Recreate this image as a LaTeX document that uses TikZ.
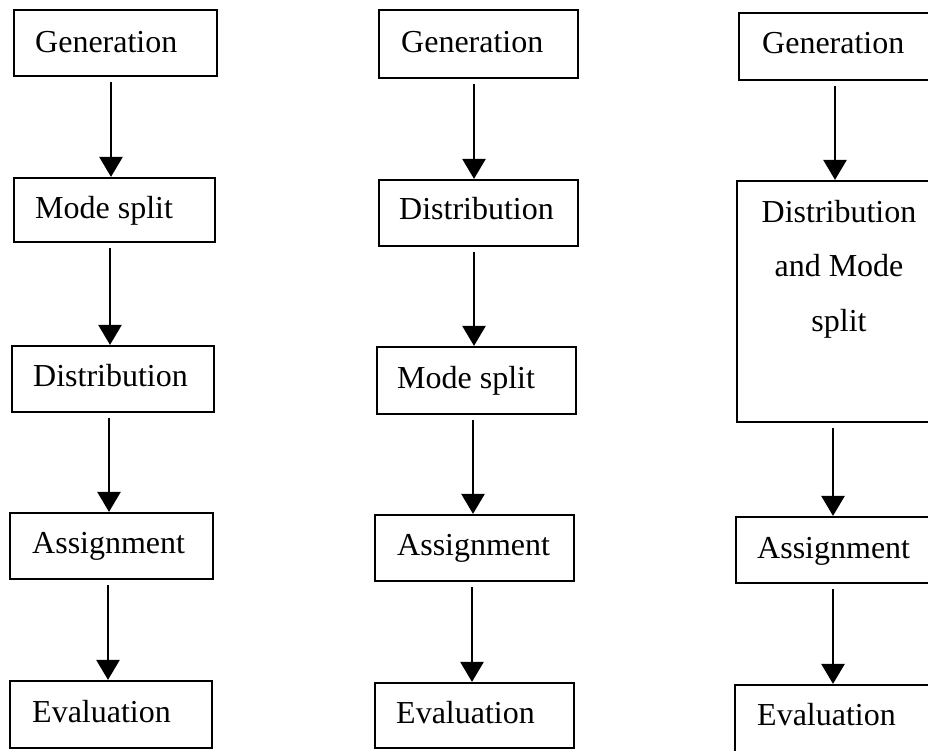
\documentclass[tikz,border=0pt]{standalone}
\usepackage{fontspec}
\setmainfont{Liberation Serif}
\usetikzlibrary{arrows.meta}
\begin{document}
\begin{tikzpicture}[x=1pt,y=-1pt,
  box/.style={draw, line width=2.2pt, inner sep=0pt, rectangle},
  lbl/.style={font=\fontsize{32}{38}\selectfont, inner sep=0pt, anchor=base west},
  clbl/.style={font=\fontsize{32}{38}\selectfont, inner sep=0pt, anchor=base},
  arr/.style={line width=2.6pt, -{Triangle[width=23pt,length=20pt]}, shorten <=5pt}]
\clip (0,0) rectangle (928,750);
\fill[white] (0,0) rectangle (928,750);
% column 1
\node[box, minimum width=203pt, minimum height=66pt] (g1) at (115.5,43) {};
\node[box, minimum width=201pt, minimum height=64pt] (m1) at (114.5,210) {};
\node[box, minimum width=202pt, minimum height=66pt] (d1) at (113,379) {};
\node[box, minimum width=203pt, minimum height=66pt] (a1) at (111.5,546) {};
\node[box, minimum width=202pt, minimum height=67pt] (e1) at (111,714.5) {};
\node[lbl] (tg1) at (35,52) {Generation};
\node[lbl] (tm1) at (35,218) {Mode split};
\node[lbl] (td1) at (33,386) {Distribution};
\node[lbl] (ta1) at (32,553) {Assignment};
\node[lbl] (te1) at (32,722) {Evaluation};
\draw[arr] (g1.south -| 111,0) -- (m1.north -| 111,0);
\draw[arr] (m1.south -| 110,0) -- (d1.north -| 110,0);
\draw[arr] (d1.south -| 109,0) -- (a1.north -| 109,0);
\draw[arr] (a1.south -| 108,0) -- (e1.north -| 108,0);
% column 2
\node[box, minimum width=199pt, minimum height=68pt] (g2) at (478.5,44) {};
\node[box, minimum width=199pt, minimum height=66pt] (d2) at (478.5,213) {};
\node[box, minimum width=199pt, minimum height=67pt] (m2) at (476.5,380.5) {};
\node[box, minimum width=199pt, minimum height=66pt] (a2) at (474.5,548) {};
\node[box, minimum width=199pt, minimum height=65pt] (e2) at (474.5,715.5) {};
\node[lbl] (tg2) at (401,52) {Generation};
\node[lbl] (td2) at (399,219) {Distribution};
\node[lbl] (tm2) at (397,388) {Mode split};
\node[lbl] (ta2) at (397,555) {Assignment};
\node[lbl] (te2) at (396,723) {Evaluation};
\draw[arr] (g2.south -| 474,0) -- (d2.north -| 474,0);
\draw[arr] (d2.south -| 474,0) -- (m2.north -| 474,0);
\draw[arr] (m2.south -| 473,0) -- (a2.north -| 473,0);
\draw[arr] (a2.south -| 472,0) -- (e2.north -| 472,0);
% column 3
\node[box, minimum width=206pt, minimum height=67pt] (g3) at (842,46.5) {};
\node[box, minimum width=208pt, minimum height=241pt] (dm3) at (841,301.5) {};
\node[box, minimum width=209pt, minimum height=66pt] (a3) at (840.5,550) {};
\node[box, minimum width=210pt, minimum height=75pt] (e3) at (840,722.5) {};
\node[lbl] (tg3) at (762,53) {Generation};
\node[clbl] (tdm3a) at (839,222) {Distribution};
\node[clbl] (tdm3b) at (839,276) {and Mode};
\node[clbl] (tdm3c) at (839,331) {split};
\node[lbl] (ta3) at (757,558) {Assignment};
\node[lbl] (te3) at (757,725) {Evaluation};
\draw[arr] (g3.south -| 835,0) -- (dm3.north -| 835,0);
\draw[arr] (dm3.south -| 833,0) -- (a3.north -| 833,0);
\draw[arr] (a3.south -| 833,0) -- (e3.north -| 833,0);
\end{tikzpicture}
\end{document}
